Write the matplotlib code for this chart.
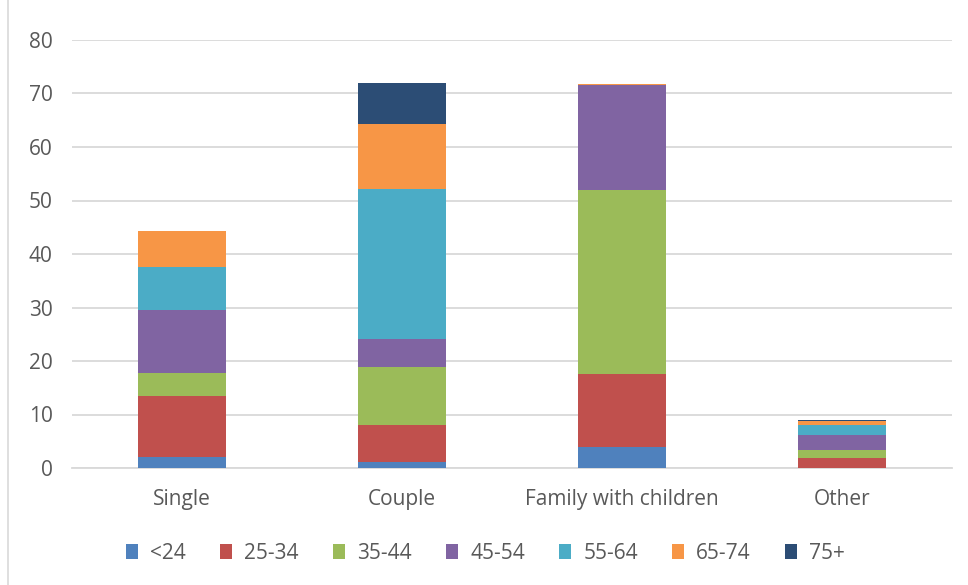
import numpy as np
import matplotlib
matplotlib.use('Agg')
from matplotlib import pyplot as plt
from matplotlib.lines import Line2D

plt.rcParams['font.family'] = ['Open Sans', 'DejaVu Sans']

categories = ['Single', 'Couple', 'Family with children', 'Other']
age_groups = ['<24', '25-34', '35-44', '45-54', '55-64', '65-74', '75+']
colors = ['#4F81BD', '#C0504D', '#9BBB59', '#8064A2', '#4BACC6', '#F79646', '#2C4D75']

# values per age group, one value per category
lt24 = [2.0, 1.1, 3.9, 0.0]
a25_34 = [11.5, 6.9, 13.7, 1.9]
a35_44 = [4.3, 10.9, 34.4, 1.4]
a45_54 = [11.7, 5.2, 19.6, 2.8]
a55_64 = [8.1, 28.0, 0.0, 1.9]
a65_74 = [6.7, 12.2, 0.2, 0.8]
a75p = [0.0, 7.7, 0.0, 0.25]
series = [lt24, a25_34, a35_44, a45_54, a55_64, a65_74, a75p]

fig = plt.figure(figsize=(9.68, 5.85), dpi=100)
ax = fig.add_axes([72 / 968, 117 / 585, 880 / 968, 428 / 585])

x = np.arange(len(categories))
bottom = np.zeros(len(categories))
for name, vals, c in zip(age_groups, series, colors):
    ax.bar(x, vals, 0.4, bottom=bottom, color=c, label=name, zorder=3)
    bottom += np.array(vals)

ax.set_xlim(-0.5, 3.5)
ax.set_ylim(0, 80)
ax.set_yticks(range(0, 90, 10))
ax.set_xticks(x)
ax.set_xticklabels(categories)
ax.grid(axis='y', color='#D9D9D9', linewidth=1.3, zorder=0)
for s in ['top', 'right', 'left']:
    ax.spines[s].set_visible(False)
ax.spines['bottom'].set_color('#D9D9D9')
ax.spines['bottom'].set_linewidth(1.3)
ax.tick_params(axis='both', length=0, colors='#595959', labelsize=15)
ax.tick_params(axis='x', pad=15)
ax.tick_params(axis='y', pad=14)

ax.legend(loc='center', bbox_to_anchor=(0.47, -0.2), ncol=7, frameon=False,
          fontsize=15, labelcolor='#595959', handlelength=0.55, handleheight=0.75,
          handletextpad=0.6, columnspacing=1.65)

# light frame line at the left edge
fig.add_artist(Line2D([7.5 / 968, 7.5 / 968], [0, 1], color='#D9D9D9', linewidth=1.2))

fig.savefig('out.png', dpi=100)
